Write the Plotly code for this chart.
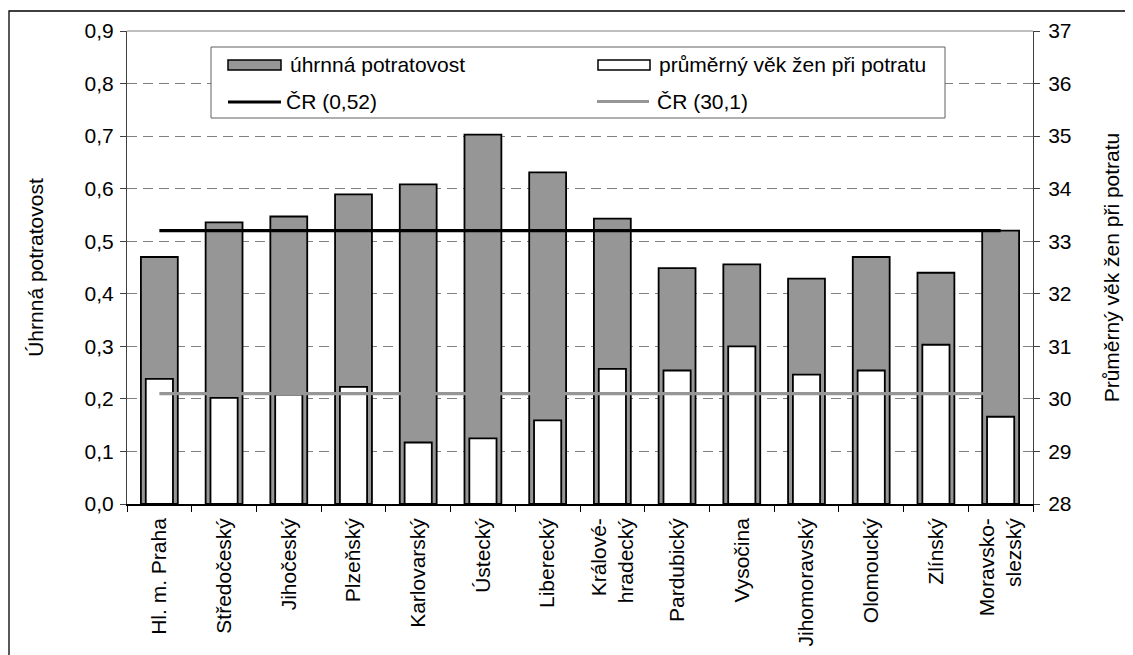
import plotly.graph_objects as go

# ---- data ----
regions = ["Hl. m. Praha", "Středočeský", "Jihočeský", "Plzeňský", "Karlovarský",
           "Ústecký", "Liberecký", "Královéhradecký", "Pardubický", "Vysočina",
           "Jihomoravský", "Olomoucký", "Zlínský", "Moravskoslezský"]
tick_labels = ["Hl. m. Praha", "Středočeský", "Jihočeský", "Plzeňský", "Karlovarský",
               "Ústecký", "Liberecký", "Králové-<br>hradecký", "Pardubický", "Vysočina",
               "Jihomoravský", "Olomoucký", "Zlínský", "Moravsko-<br>slezský"]
abortion_rate = [0.470, 0.536, 0.547, 0.589, 0.608, 0.703, 0.631,
                 0.543, 0.449, 0.456, 0.429, 0.470, 0.440, 0.520]
mean_age = [30.38, 30.02, 30.08, 30.23, 29.17, 29.25, 29.59,
            30.57, 30.54, 31.00, 30.46, 30.54, 31.03, 29.66]
cr_rate = 0.52
cr_age = 30.1
left_ticks = [0.0, 0.1, 0.2, 0.3, 0.4, 0.5, 0.6, 0.7, 0.8, 0.9]
right_ticks = [28, 29, 30, 31, 32, 33, 34, 35, 36, 37]

# ---- layout geometry (pixels); page body has an 8px margin ----
OFF = 8
W, H = 1133 - OFF, 655 - OFF
ML, MR, MT, MB = 127 - OFF, 100, 31 - OFF, 151
PW, PH = W - ML - MR, H - MT - MB
FONT = "Arial, Liberation Sans, sans-serif"
GRAY = "#969696"


def px_x(p):
    """page pixel x -> paper coordinate"""
    return (p - OFF - ML) / PW


def px_y(p):
    """page pixel y -> paper coordinate"""
    return (OFF + H - MB - p) / PH


fig = go.Figure()
fig.add_trace(go.Bar(x=regions, y=abortion_rate, name="úhrnná potratovost",
                     marker=dict(color=GRAY, line=dict(color="black", width=1.8)),
                     width=0.57, yaxis="y", showlegend=False))
fig.add_trace(go.Scatter(x=regions, y=[cr_rate] * len(regions), name="ČR (0,52)",
                         mode="lines", line=dict(color="black", width=3.2),
                         yaxis="y", showlegend=False))
fig.add_trace(go.Bar(x=regions, y=[v - right_ticks[0] for v in mean_age],
                     base=right_ticks[0], customdata=mean_age,
                     hovertemplate="%{x}: %{customdata}<extra></extra>",
                     name="průměrný věk žen při potratu",
                     marker=dict(color="white", line=dict(color="black", width=1.8)),
                     width=0.42, yaxis="y2", showlegend=False))
fig.add_trace(go.Scatter(x=regions, y=[cr_age] * len(regions), name="ČR (30,1)",
                         mode="lines", line=dict(color=GRAY, width=3.2),
                         yaxis="y2", showlegend=False))

tickfont = dict(family=FONT, size=21, color="black")
fig.update_layout(
    width=W, height=H,
    margin=dict(l=ML, r=MR, t=MT, b=MB, pad=0, autoexpand=False),
    paper_bgcolor="white", plot_bgcolor="white",
    separators=", ",
    barmode="overlay",
    font=dict(family=FONT, size=21, color="black"),
    xaxis=dict(type="category", range=[-0.5, len(regions) - 0.5], automargin=False,
               tickmode="array", tickvals=regions, ticktext=tick_labels,
               tickangle=-90, tickson="boundaries", ticks="outside", ticklen=6,
               ticklabelstandoff=4,
               tickcolor="black", showline=True, linecolor="black", linewidth=1.5,
               showgrid=False, tickfont=tickfont),
    yaxis=dict(range=[0, 0.9], tickmode="array", tickvals=left_ticks, automargin=False,
               tickformat=".1f", ticks="outside", ticklen=6, tickcolor="#404040",
               ticklabelstandoff=2,
               showline=True, linecolor="#404040", linewidth=1,
               showgrid=True, gridcolor="#808080", gridwidth=1, griddash="10px,6px",
               zeroline=False, tickfont=tickfont,
               title=dict(text="Úhrnná potratovost", font=dict(family=FONT, size=21),
                          standoff=35)),
    yaxis2=dict(range=[28, 37], tickmode="array", tickvals=right_ticks, automargin=False,
                overlaying="y", side="right", ticks="outside", ticklen=6,
                ticklabelstandoff=4,
                tickcolor="#404040", showline=True, linecolor="#404040", linewidth=1,
                showgrid=False, zeroline=False, tickfont=tickfont,
                title=dict(text="Průměrný věk žen při potratu",
                           font=dict(family=FONT, size=21), standoff=33)),
)

shapes = []
# plot area top border
shapes.append(dict(type="line", xref="paper", yref="paper", x0=0, x1=1, y0=1, y1=1,
                   line=dict(color="#808080", width=1)))
# outer chart border
shapes.append(dict(type="rect", xref="paper", yref="paper",
                   x0=px_x(9), x1=px_x(1145), y0=px_y(670), y1=px_y(11),
                   line=dict(color="black", width=1.3), fillcolor="rgba(0,0,0,0)"))
# legend box
shapes.append(dict(type="rect", xref="paper", yref="paper",
                   x0=px_x(211), x1=px_x(945), y0=px_y(118), y1=px_y(47),
                   line=dict(color="#606060", width=1), fillcolor="white"))
# legend symbols
shapes.append(dict(type="rect", xref="paper", yref="paper",
                   x0=px_x(228), x1=px_x(281), y0=px_y(70), y1=px_y(60),
                   line=dict(color="black", width=1.5), fillcolor=GRAY))
shapes.append(dict(type="rect", xref="paper", yref="paper",
                   x0=px_x(598), x1=px_x(650), y0=px_y(70), y1=px_y(60),
                   line=dict(color="black", width=1.5), fillcolor="white"))
shapes.append(dict(type="line", xref="paper", yref="paper",
                   x0=px_x(228), x1=px_x(281), y0=px_y(102), y1=px_y(102),
                   line=dict(color="black", width=3.2)))
shapes.append(dict(type="line", xref="paper", yref="paper",
                   x0=px_x(597), x1=px_x(649), y0=px_y(101.5), y1=px_y(101.5),
                   line=dict(color=GRAY, width=3.2)))
fig.update_layout(shapes=shapes)

legend_items = [("úhrnná potratovost", 288, 64), ("průměrný věk žen při potratu", 657, 64),
                ("ČR (0,52)", 284, 101), ("ČR (30,1)", 655, 101)]
for text, lx, ly in legend_items:
    fig.add_annotation(text=text, xref="paper", yref="paper", x=px_x(lx), y=px_y(ly),
                       xanchor="left", yanchor="middle", showarrow=False,
                       font=dict(family=FONT, size=21, color="black"))

fig.write_html("out.html")
